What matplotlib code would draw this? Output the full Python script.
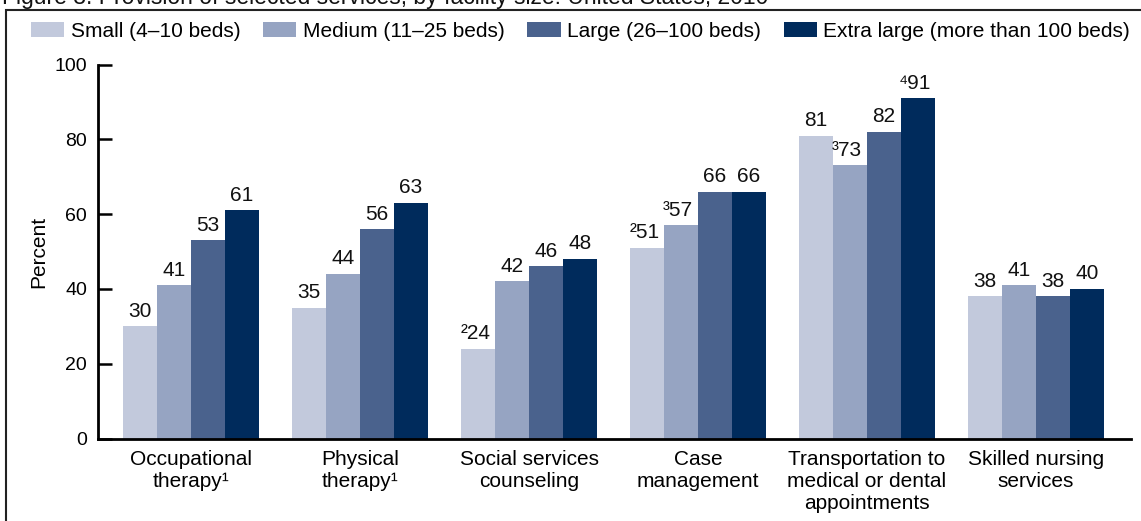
import numpy as np
import matplotlib
matplotlib.use("Agg")
from matplotlib import pyplot as plt
from matplotlib.patches import Rectangle

plt.rcParams['font.family'] = ['Liberation Sans', 'DejaVu Sans']

# data
categories = ["Occupational\ntherapy\u00b9", "Physical\ntherapy\u00b9", "Social services\ncounseling",
              "Case\nmanagement", "Transportation to\nmedical or dental\nappointments", "Skilled nursing\nservices"]
series_names = ["Small (4\u201310 beds)", "Medium (11\u201325 beds)", "Large (26\u2013100 beds)",
                "Extra large (more than 100 beds)"]
small = [30, 35, 24, 51, 81, 38]
medium = [41, 44, 42, 57, 73, 41]
large = [53, 56, 46, 66, 82, 38]
xlarge = [61, 63, 48, 66, 91, 40]
# footnote marks in front of some values
small_notes = ["", "", "\u00b2", "\u00b2", "", ""]
medium_notes = ["", "", "", "\u00b3", "\u00b3", ""]
large_notes = ["", "", "", "", "", ""]
xlarge_notes = ["", "", "", "", "\u2074", ""]

colors = ["#c2c9dc", "#96a4c2", "#4a628d", "#002b5c"]
title = "Figure 3. Provision of selected services, by facility size: United States, 2010"

W, H = 1141, 521
fig = plt.figure(figsize=(W / 100, H / 100), dpi=100)
ax = fig.add_axes([98 / W, (H - 438.5) / H, (1131 - 98) / W, 374 / H])

x = np.arange(len(categories))
bw = 0.201
all_vals = [small, medium, large, xlarge]
all_notes = [small_notes, medium_notes, large_notes, xlarge_notes]
for i in range(4):
    pos = x + (i - 1.5) * bw
    ax.bar(pos, all_vals[i], width=bw, color=colors[i], label=series_names[i], zorder=2)
    for p, v, n in zip(pos, all_vals[i], all_notes[i]):
        ax.annotate(n + str(v), (p, v), xytext=(-2 if n else 0, 4), textcoords="offset points",
                    ha="center", va="bottom", fontsize=15, color="#111111")

ax.set_xlim((98 - 191) / 169, (1131 - 191) / 169)
ax.set_ylim(0, 100)
ax.set_yticks([0, 20, 40, 60, 80, 100])
ax.tick_params(axis="y", direction="in", length=10, width=1.8, pad=8, labelsize=14)
ax.set_xticks(x)
ax.set_xticklabels(categories, fontsize=15, linespacing=1.2)
ax.tick_params(axis="x", length=0, pad=8)
ax.set_ylabel("Percent", fontsize=15, labelpad=4)

for s in ["top", "right"]:
    ax.spines[s].set_visible(False)
ax.spines["left"].set_linewidth(2)
ax.spines["bottom"].set_linewidth(2)

fig.legend(loc="upper left", bbox_to_anchor=(31 / W, 1 - 22 / H), ncol=4, frameon=False,
           fontsize=15, handlelength=1.6, handleheight=0.75, handletextpad=0.3,
           columnspacing=1.1, borderpad=0, borderaxespad=0)

# outer box, cut off at right and bottom like the source
fig.patches.append(Rectangle((6 / W, -0.1), 1.2, 1 - 10 / H + 0.1, transform=fig.transFigure,
                             fill=False, edgecolor="#222222", linewidth=1.5))
# title line only partly inside the picture, as in the source
fig.text(2 / W, 1 - 4 / H, title, fontsize=16.5, va="baseline", ha="left", color="#111111")

fig.savefig("out.png", dpi=100)
